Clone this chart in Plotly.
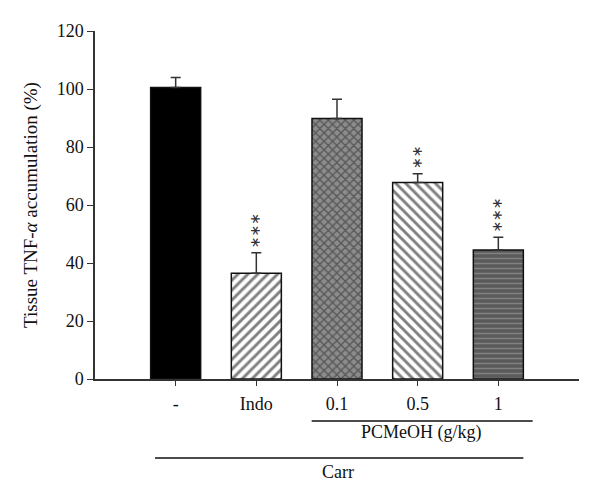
import plotly.graph_objects as go

categories = ["-", "Indo", "0.1", "0.5", "1"]
values = [100.5, 36.5, 89.8, 67.8, 44.5]
errors = [3.5, 7.0, 6.7, 3.0, 4.4]
stars = ["", "***", "", "**", "***"]
y_ticks = [0, 20, 40, 60, 80, 100, 120]

x = list(range(len(categories)))
FONT = "Liberation Serif"
PX_PER_UNIT = 348 / 120.0

patterns = [
    dict(shape="", bgcolor="black"),
    dict(shape="/", fgcolor="black", bgcolor="white", size=7, solidity=0.42),
    dict(shape="x", fgcolor="#222", bgcolor="#8c8c8c", size=6, solidity=0.4),
    dict(shape="\\", fgcolor="black", bgcolor="white", size=7, solidity=0.42),
    dict(shape="-", fgcolor="#a8a8a8", bgcolor="#5a5a5a", size=5, solidity=0.3),
]
fills = ["black", "white", "#8c8c8c", "white", "#5a5a5a"]

fig = go.Figure()
for i in x:
    fig.add_trace(go.Bar(
        x=[i], y=[values[i]], width=0.62,
        marker=dict(color=fills[i], pattern=patterns[i],
                    line=dict(color="#111", width=1.5)),
        error_y=dict(type="data", array=[errors[i]], arrayminus=[0],
                     symmetric=False, color="#333", thickness=1.5, width=5),
        showlegend=False,
    ))

annotations = []
for i in x:
    n = len(stars[i])
    if n == 0:
        continue
    # stack of asterisks, written as one rotated string
    center_px = 10.5 + (n - 1) * 11.7 / 2.0
    annotations.append(dict(
        x=i, y=values[i] + errors[i] + center_px / PX_PER_UNIT,
        xref="x", yref="y", text="\u2217" * n, showarrow=False, textangle=90,
        font=dict(family="DejaVu Sans", size=14, color="#333"),
        xanchor="center", yanchor="middle",
    ))

# group labels below the axis
annotations.append(dict(x=3.05, y=-0.155, xref="x", yref="paper", text="PCMeOH (g/kg)",
                        showarrow=False, yanchor="middle",
                        font=dict(family=FONT, size=18, color="#111")))
annotations.append(dict(x=2.01, y=-0.267, xref="x", yref="paper", text="Carr",
                        showarrow=False, yanchor="middle",
                        font=dict(family=FONT, size=18, color="#111")))

shapes = [
    dict(type="line", xref="x", yref="paper", x0=1.686, x1=4.426, y0=-0.1207, y1=-0.1207,
         line=dict(color="#111", width=1.5)),
    dict(type="line", xref="x", yref="paper", x0=-0.256, x1=4.31, y0=-0.227, y1=-0.227,
         line=dict(color="#111", width=1.5)),
]

fig.update_layout(
    width=600, height=504,
    margin=dict(l=87, r=29, t=23, b=133),
    plot_bgcolor="white", paper_bgcolor="white",
    font=dict(family=FONT, size=18, color="#111"),
    bargap=0.38,
    annotations=annotations,
    shapes=shapes,
    xaxis=dict(range=[-1, 5], tickmode="array", tickvals=x, ticktext=categories,
               showline=True, linecolor="#333", linewidth=1.5, ticks="outside",
               ticklen=5, tickcolor="#333", tickwidth=1.2, showgrid=False, zeroline=False,
               ticklabelstandoff=3,
               tickfont=dict(family=FONT, size=18, color="#111")),
    yaxis=dict(range=[0, 120], tickmode="array", tickvals=y_ticks,
               showline=True, linecolor="#333", linewidth=1.5, ticks="outside",
               ticklen=6, tickcolor="#333", tickwidth=1.2, showgrid=False, zeroline=False,
               tickfont=dict(family=FONT, size=18, color="#111"),
               title=dict(text="Tissue TNF-<i>α</i> accumulation (%)", standoff=14,
                          font=dict(family=FONT, size=19, color="#111"))),
)

fig.write_html("out.html")
